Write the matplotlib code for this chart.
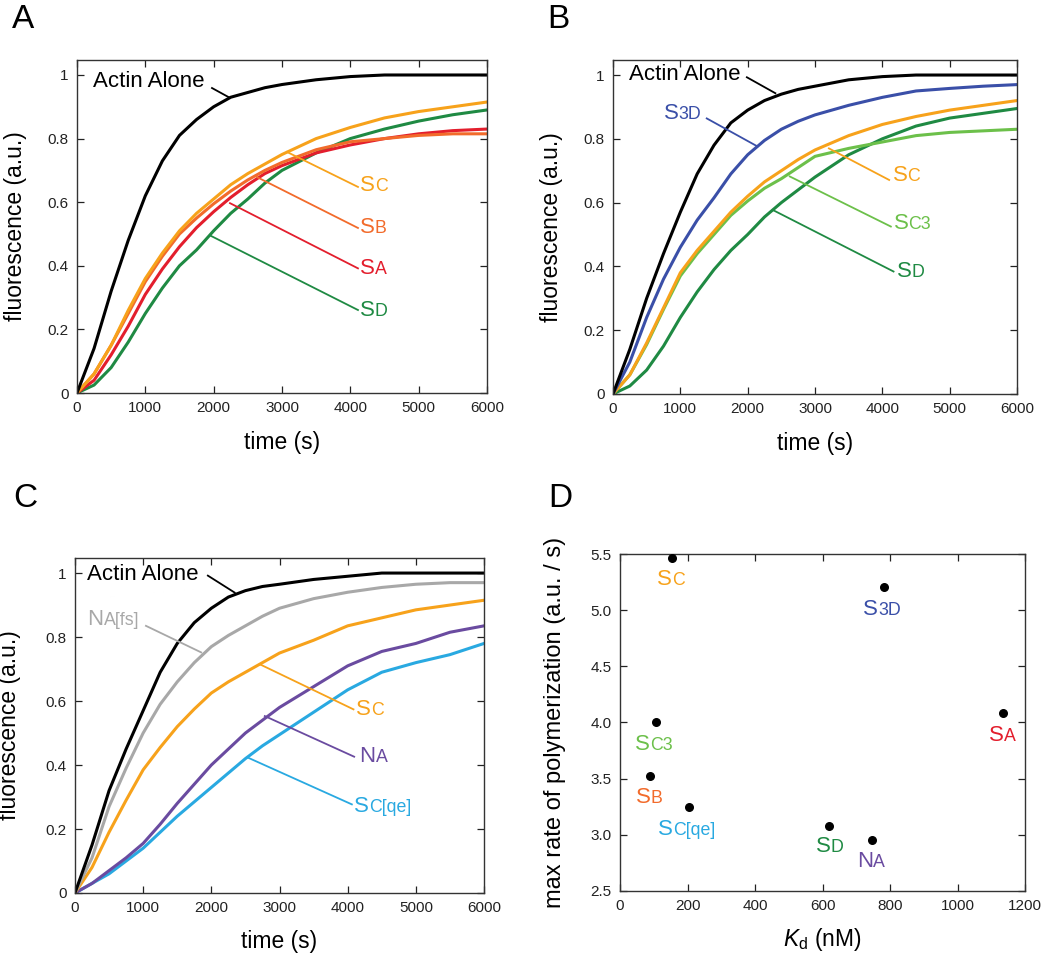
import matplotlib
matplotlib.use("Agg")
import matplotlib.pyplot as plt
from matplotlib.ticker import FuncFormatter
from matplotlib.offsetbox import TextArea, HPacker, AnnotationBbox

plt.rcParams['font.family'] = ['Liberation Sans', 'DejaVu Sans']
plt.rcParams['mathtext.fontset'] = 'custom'
plt.rcParams['mathtext.rm'] = 'Liberation Sans'
plt.rcParams['mathtext.it'] = 'Liberation Sans:italic'

# time points (s)
time = [0, 250, 500, 750, 1000, 1250, 1500, 1750, 2000, 2250, 2500, 2750, 3000,
        3500, 4000, 4500, 5000, 5500, 6000]

# panel A
a_actin = [0, 0.14, 0.32, 0.48, 0.62, 0.73, 0.81, 0.86, 0.90, 0.93, 0.945, 0.96, 0.97,
           0.985, 0.995, 1.0, 1.0, 1.0, 1.0]
a_sc = [0, 0.06, 0.15, 0.26, 0.36, 0.44, 0.51, 0.565, 0.61, 0.655, 0.69, 0.72, 0.75,
        0.80, 0.835, 0.865, 0.885, 0.90, 0.915]
a_sb = [0, 0.06, 0.15, 0.25, 0.35, 0.43, 0.50, 0.55, 0.595, 0.635, 0.67, 0.70, 0.725,
        0.765, 0.79, 0.80, 0.81, 0.815, 0.815]
a_sa = [0, 0.04, 0.12, 0.21, 0.31, 0.39, 0.46, 0.52, 0.57, 0.615, 0.655, 0.69, 0.715,
        0.755, 0.78, 0.80, 0.815, 0.825, 0.83]
a_sd = [0, 0.025, 0.08, 0.16, 0.25, 0.33, 0.40, 0.45, 0.51, 0.565, 0.61, 0.66, 0.70,
        0.755, 0.80, 0.83, 0.855, 0.875, 0.89]

# panel B
b_actin = [0, 0.14, 0.30, 0.44, 0.57, 0.69, 0.78, 0.85, 0.89, 0.92, 0.94, 0.955, 0.965,
           0.985, 0.995, 1.0, 1.0, 1.0, 1.0]
b_s3d = [0, 0.10, 0.24, 0.36, 0.46, 0.545, 0.615, 0.69, 0.75, 0.795, 0.83, 0.855, 0.875,
         0.905, 0.93, 0.95, 0.958, 0.965, 0.97]
b_sc = [0, 0.06, 0.16, 0.27, 0.38, 0.45, 0.51, 0.57, 0.62, 0.665, 0.70, 0.735, 0.765,
        0.81, 0.845, 0.87, 0.89, 0.905, 0.92]
b_sc3 = [0, 0.06, 0.155, 0.265, 0.37, 0.44, 0.50, 0.56, 0.605, 0.645, 0.675, 0.71, 0.745,
         0.77, 0.79, 0.81, 0.82, 0.825, 0.83]
b_sd = [0, 0.025, 0.075, 0.15, 0.24, 0.32, 0.39, 0.45, 0.50, 0.555, 0.60, 0.64, 0.68,
        0.75, 0.80, 0.84, 0.865, 0.88, 0.895]

# panel C
c_actin = [0, 0.15, 0.32, 0.45, 0.57, 0.69, 0.78, 0.845, 0.89, 0.925, 0.945, 0.958, 0.965,
           0.98, 0.99, 1.0, 1.0, 1.0, 1.0]
c_nafs = [0, 0.11, 0.27, 0.39, 0.50, 0.59, 0.66, 0.72, 0.77, 0.805, 0.835, 0.865, 0.89,
          0.92, 0.94, 0.955, 0.965, 0.97, 0.97]
c_sc = [0, 0.08, 0.19, 0.29, 0.385, 0.455, 0.52, 0.575, 0.625, 0.66, 0.69, 0.72, 0.75,
        0.79, 0.835, 0.86, 0.885, 0.90, 0.915]
c_na = [0, 0.03, 0.07, 0.11, 0.155, 0.215, 0.28, 0.34, 0.40, 0.45, 0.50, 0.54, 0.58,
        0.645, 0.71, 0.755, 0.78, 0.815, 0.835]
c_scqe = [0, 0.03, 0.06, 0.10, 0.14, 0.19, 0.24, 0.285, 0.33, 0.375, 0.42, 0.46, 0.495,
          0.565, 0.635, 0.69, 0.72, 0.745, 0.78]

# panel D
d_names = ["SC", "S3D", "SA", "SC3", "SB", "SC[qe]", "SD", "NA"]
d_kd = [155, 783, 1136, 107, 88, 205, 620, 746]
d_rate = [5.46, 5.21, 4.086, 4.0, 3.52, 3.244, 3.08, 2.95]

colors = {
    "actin": "black",
    "SC": "#F7A21B",
    "SB": "#F26B2B",
    "SA": "#E31E2D",
    "SD": "#1F8A43",
    "S3D": "#3A4FA8",
    "SC3": "#6CC04A",
    "NA[fs]": "#A8A8A8",
    "NA": "#6A4BA0",
    "SC[qe]": "#29A9E1",
}

fig = plt.figure(figsize=(10.5, 9.56), dpi=100)


def style(ax):
    ax.tick_params(direction='in', top=True, right=True, length=5, width=0.9,
                   labelsize=11, pad=6, colors='#222222')
    for s in ax.spines.values():
        s.set_linewidth(1.0)
        s.set_color('#333333')


def label(ax, x, y, name, color, size=16):
    # first letter full size, the rest as small capitals on the same baseline
    big = TextArea(name[0], textprops=dict(color=color, fontsize=size))
    small = TextArea(name[1:], textprops=dict(color=color, fontsize=size * 0.8))
    box = HPacker(children=[big, small], align="baseline", pad=0, sep=0)
    ab = AnnotationBbox(box, (x, y), xycoords='data', box_alignment=(0, 0.5),
                        frameon=False, pad=0)
    ax.add_artist(ab)


def leader(ax, p0, p1, text_xy, name, color):
    ax.plot([p0[0], p1[0]], [p0[1], p1[1]], color=color, lw=1.3)
    label(ax, text_xy[0], text_xy[1], name, color)


def kinetics(rect, curves, leaders, actin_lead, actin_text):
    ax = fig.add_axes(rect)
    for key, vals in curves:
        ax.plot(time, vals, color=colors[key], lw=2.2)
    ax.set_xlim(0, 6000)
    ax.set_ylim(0, 1.047)
    ax.set_xticks([0, 1000, 2000, 3000, 4000, 5000, 6000])
    ax.set_yticks([0, 0.2, 0.4, 0.6, 0.8, 1.0])
    ax.yaxis.set_major_formatter(FuncFormatter(lambda v, p: "%g" % v))
    ax.plot([actin_lead[0][0], actin_lead[1][0]], [actin_lead[0][1], actin_lead[1][1]],
            color='black', lw=1.3)
    ax.text(actin_text[0], actin_text[1], "Actin Alone", fontsize=16, va='center', ha='left')
    for name, p0, p1, txy in leaders:
        leader(ax, p0, p1, txy, name, colors[name])
    ax.set_xlabel("time (s)", fontsize=16.5, va='center')
    ax.set_ylabel("fluorescence (a.u.)", fontsize=16.5, va='center')
    style(ax)
    return ax


axA = kinetics([0.0733, 0.5889, 0.3905, 0.3483],
               [("SD", a_sd), ("SA", a_sa), ("SB", a_sb), ("SC", a_sc), ("actin", a_actin)],
               [("SC", (3073, 0.758), (4112, 0.648), (4141, 0.654)),
                ("SB", (2634, 0.679), (4112, 0.519), (4141, 0.519)),
                ("SA", (2239, 0.597), (4112, 0.392), (4141, 0.393)),
                ("SD", (1961, 0.494), (4112, 0.261), (4141, 0.261))],
               ((2239, 0.928), (1976, 0.959)), (234, 0.978))
axA.xaxis.set_label_coords(0.5, -0.150)
axA.yaxis.set_label_coords(-0.151, 0.5)

axB = kinetics([0.5838, 0.5879, 0.3848, 0.3493],
               [("SD", b_sd), ("SC3", b_sc3), ("SC", b_sc), ("S3D", b_s3d), ("actin", b_actin)],
               [("S3D", (2147, 0.776), (1392, 0.864), (756, 0.88)),
                ("SC", (3206, 0.77), (4101, 0.671), (4151, 0.684)),
                ("SC3", (2625, 0.682), (4126, 0.525), (4166, 0.533)),
                ("SD", (2372, 0.577), (4166, 0.384), (4215, 0.384))],
               ((2411, 0.943), (1988, 0.993)), (239, 1.003))
axB.xaxis.set_label_coords(0.5, -0.147)
axB.yaxis.set_label_coords(-0.151, 0.5)

axC = kinetics([0.0714, 0.0659, 0.3896, 0.3504],
               [("SC[qe]", c_scqe), ("NA", c_na), ("SC", c_sc), ("NA[fs]", c_nafs), ("actin", c_actin)],
               [("NA[fs]", (1851, 0.752), (1041, 0.835), (182, 0.856)),
                ("SC", (2710, 0.715), (4085, 0.574), (4124, 0.572)),
                ("NA", (2784, 0.553), (4095, 0.426), (4173, 0.426)),
                ("SC[qe]", (2538, 0.423), (4061, 0.277), (4095, 0.271))],
               ((2342, 0.939), (1949, 0.992)), (182, 0.997))
axC.xaxis.set_label_coords(0.5, -0.146)
axC.yaxis.set_label_coords(-0.159, 0.5)

# panel D
axD = fig.add_axes([0.5905, 0.0680, 0.3857, 0.3525])
axD.scatter(d_kd, d_rate, s=30, color='black', zorder=3)
d_label_pos = {
    "SC": (109, 5.27), "S3D": (721, 5.01), "SA": (1094, 3.88), "SC3": (44, 3.80),
    "SB": (46, 3.33), "SC[qe]": (112, 3.05), "SD": (581, 2.90), "NA": (703, 2.76),
}
for name in d_names:
    x, y = d_label_pos[name]
    label(axD, x, y, name, colors[name])
axD.set_xlim(0, 1200)
axD.set_ylim(2.5, 5.5)
axD.set_xticks([0, 200, 400, 600, 800, 1000, 1200])
axD.set_yticks([2.5, 3.0, 3.5, 4.0, 4.5, 5.0, 5.5])
axD.yaxis.set_major_formatter(FuncFormatter(lambda v, p: "%.1f" % v))
axD.set_xlabel(r"$K_\mathrm{d}$ (nM)", fontsize=16.5, va='center')
axD.set_ylabel("max rate of polymerization (a.u. / s)", fontsize=17, va='center')
axD.xaxis.set_label_coords(0.5, -0.145)
axD.yaxis.set_label_coords(-0.16, 0.5)
style(axD)

# panel letters
for letter, x, y in [("A", 12, 28), ("B", 547, 28), ("C", 13, 507), ("D", 548, 507)]:
    fig.text(x / 1050, 1 - y / 956, letter, fontsize=24, va='baseline', ha='left')

fig.savefig("out.png", dpi=100)
